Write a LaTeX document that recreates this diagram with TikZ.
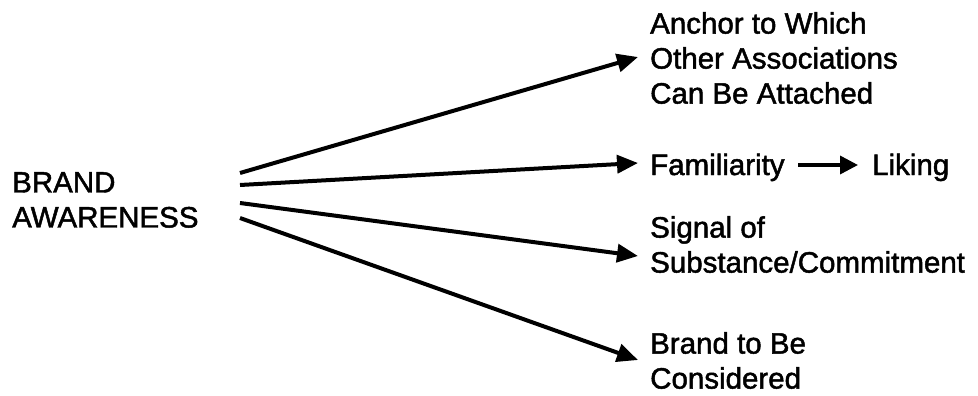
\documentclass[tikz,border=0pt]{standalone}
\usepackage{fontspec}
\setmainfont{Liberation Sans}
\newfontfamily\lblfont{Liberation Sans}[FakeBold=1.6]
\usetikzlibrary{arrows.meta}
\begin{document}
\begin{tikzpicture}[x=1pt,y=-1pt,
  lbl/.style={inner sep=0pt, align=left, font=\lblfont\fontsize{29.5}{35}\selectfont},
  link/.style={line width=4pt, -{Triangle[length=21pt,width=18pt]}}]
\useasboundingbox (0,0) rectangle (978,396);

% source concept
\node[lbl, anchor=north west] (brand) at (12,172) {BRAND\\AWARENESS};

% consequences
\node[lbl, anchor=north west] (anchor) at (650,12) {Anchor to Which\\Other Associations\\Can Be Attached};
\node[lbl, anchor=base west] (fam) at (650,175) {Familiarity};
\node[lbl, anchor=base west] (lik) at (872,175) {Liking};
\node[lbl, anchor=north west] (sig) at (650,216) {Signal of\\Substance/Commitment};
\node[lbl, anchor=north west] (cons) at (650,332) {Brand to Be\\Considered};

% fan of arrows leaving the source
\coordinate (s1) at (240,173);
\coordinate (s2) at (240,185);
\coordinate (s3) at (240,203);
\coordinate (s4) at (240,218);
\coordinate (t1) at (638,57);
\coordinate (t2) at (638,163);
\coordinate (t3) at (638,256);
\coordinate (t4) at (638,360);

\draw[link] (s1) -- (t1);
\draw[link] (s2) -- (t2);
\draw[link] (s3) -- (t3);
\draw[link] (s4) -- (t4);

% familiarity leads to liking
\coordinate (f1) at (798,165);
\coordinate (f2) at (858,165);
\draw[link, line width=3.5pt, -{Triangle[length=18pt,width=18pt]}] (f1) -- (f2);
\end{tikzpicture}
\end{document}
